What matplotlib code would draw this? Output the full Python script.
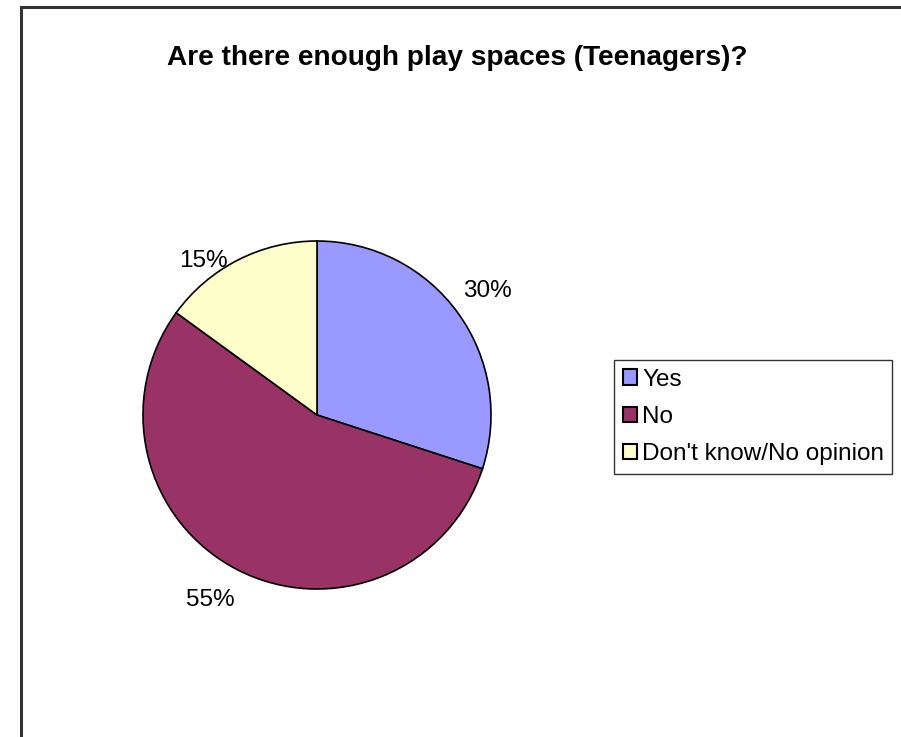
import numpy as np
import matplotlib
matplotlib.use('Agg')
import matplotlib.pyplot as plt
from matplotlib.patches import Rectangle

plt.rcParams['font.family'] = ['Liberation Sans', 'DejaVu Sans']

title = 'Are there enough play spaces (Teenagers)?'
labels = ['Yes', 'No', "Don't know/No opinion"]
shares = [30, 55, 15]
colours = ['#9999FF', '#993366', '#FFFFCC']

W, H = 901, 737
fig = plt.figure(figsize=(W/100, H/100), dpi=100)

# outer chart frame (open to the right and bottom)
fig.add_artist(Rectangle((21/W, -0.1), 1.2, (H - 7)/H + 0.1, transform=fig.transFigure,
                         fill=False, edgecolor='#333333', linewidth=2.2))

# pie centre and radius in pixels
cx, cy, R = 317, 415, 174
ax = fig.add_axes([(cx - R)/W, (H - cy - R)/H, 2*R/W, 2*R/H])
wedges, _ = ax.pie(shares, colors=colours, startangle=90, counterclock=False,
                   radius=1.0, wedgeprops=dict(edgecolor='black', linewidth=1.2))
ax.set_xlim(-1, 1)
ax.set_ylim(-1, 1)
ax.set_aspect('equal')
ax.axis('off')

# percentage labels, nudged around each wedge's mid angle
offsets = [(1.21, 0), (1.23, -3), (1.10, 9.5)]
for w, v, (dist, dang) in zip(wedges, shares, offsets):
    ang = np.deg2rad((w.theta1 + w.theta2) / 2 + dang)
    ax.text(dist*np.cos(ang), dist*np.sin(ang), '%d%%' % v, ha='center', va='center',
            fontsize=17.5, clip_on=False)

fig.text(457/W, 1 - 58/H, title, ha='center', va='center', fontsize=20.2, fontweight='bold')

leg = fig.legend(wedges, labels, loc='upper left', bbox_to_anchor=(614/W, 1 - 360/H),
                 fontsize=17.5, frameon=True, fancybox=False, borderaxespad=0,
                 handlelength=0.6, handleheight=0.6, handletextpad=0.2,
                 labelspacing=0.63, borderpad=0.35)
leg.get_frame().set_edgecolor('black')
leg.get_frame().set_linewidth(1.0)
for h in leg.legend_handles:
    h.set_linewidth(1.5)

fig.savefig('out.png', dpi=100)
